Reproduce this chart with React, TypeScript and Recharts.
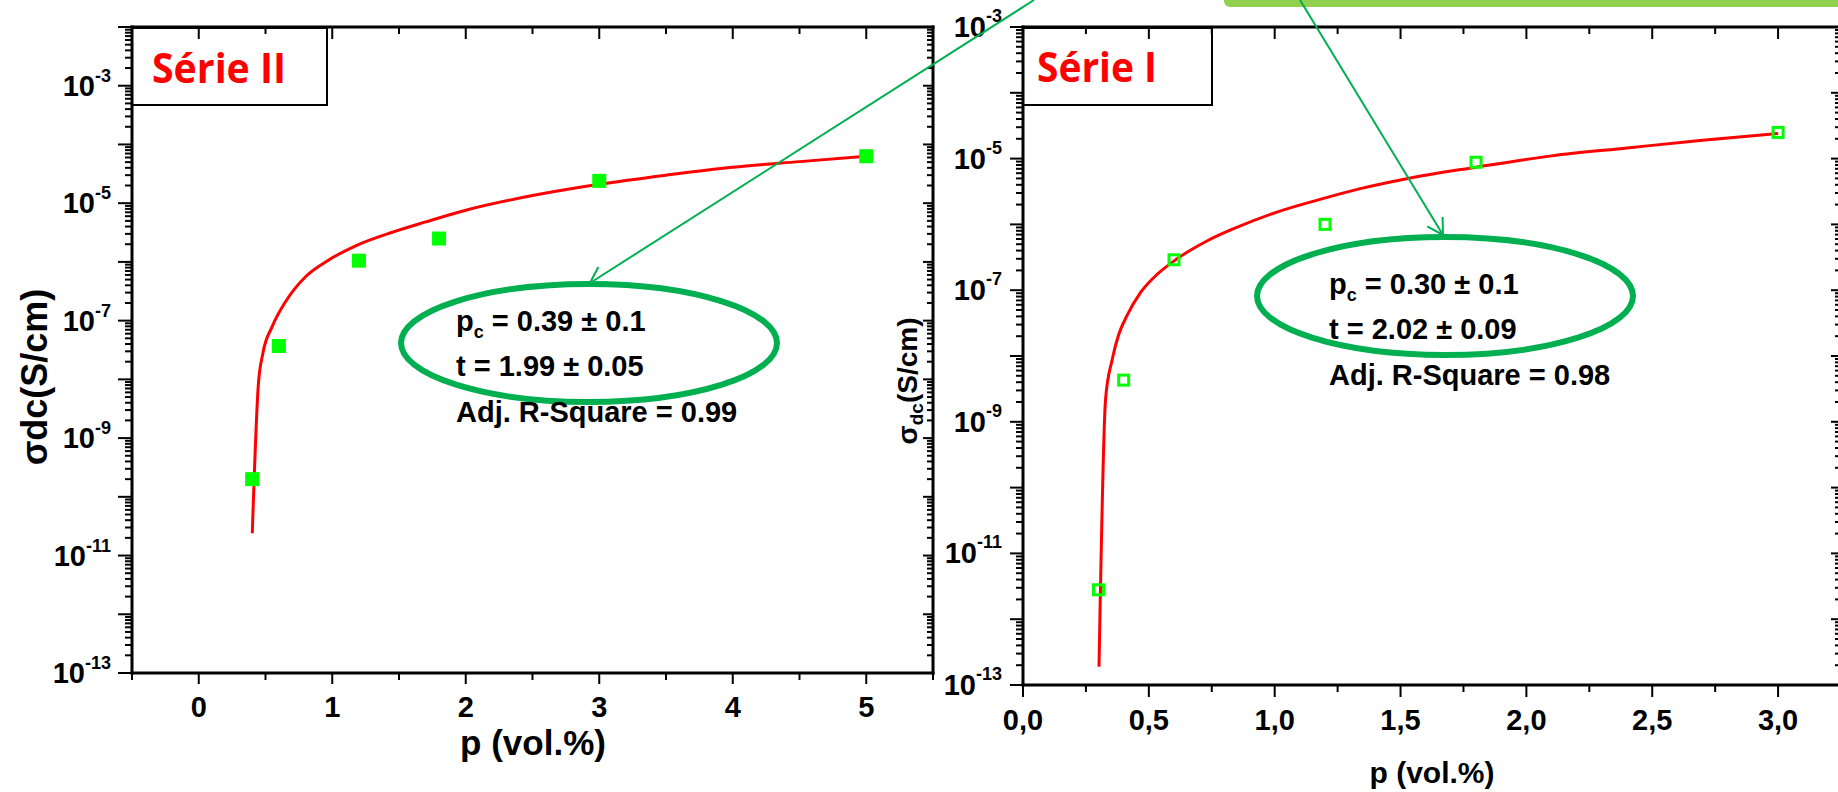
import React from 'react';
import { ComposedChart, Line, Scatter, XAxis, YAxis } from 'recharts';

const FONT = '"Liberation Sans", Arial, Helvetica, sans-serif';
const MARK_GREEN = '#00ff00';
const FIT_RED = '#ff0000';
const NOTE_GREEN = '#00b050';

// Série II (left panel) - measured points and fitted curve
const serie2Points = [
  { x: 0.4, y: 2.0e-10 },
  { x: 0.6, y: 3.7e-8 },
  { x: 1.2, y: 1.05e-6 },
  { x: 1.8, y: 2.5e-6 },
  { x: 3.0, y: 2.4e-5 },
  { x: 5.0, y: 6.3e-5 },
];
const serie2Fit = [
  { x: 0.401, y: 2.4e-11 },
  { x: 0.446, y: 7.9e-9 },
  { x: 0.48, y: 2.75e-8 },
  { x: 0.55, y: 7.9e-8 },
  { x: 0.65, y: 2.1e-7 },
  { x: 0.8, y: 5.6e-7 },
  { x: 0.95, y: 1.0e-6 },
  { x: 1.18, y: 1.9e-6 },
  { x: 1.45, y: 3.2e-6 },
  { x: 1.7, y: 4.8e-6 },
  { x: 2.0, y: 7.6e-6 },
  { x: 2.5, y: 1.35e-5 },
  { x: 3.0, y: 2.1e-5 },
  { x: 3.5, y: 3.0e-5 },
  { x: 4.0, y: 4.1e-5 },
  { x: 4.5, y: 5.1e-5 },
  { x: 5.0, y: 6.3e-5 },
];

// Série I (right panel)
const serie1Points = [
  { x: 0.3, y: 2.8e-12 },
  { x: 0.4, y: 4.3e-9 },
  { x: 0.6, y: 2.9e-7 },
  { x: 1.2, y: 1.0e-6 },
  { x: 1.8, y: 8.8e-6 },
  { x: 3.0, y: 2.5e-5 },
];
const serie1Fit = [
  { x: 0.302, y: 1.9e-13 },
  { x: 0.328, y: 2.2e-9 },
  { x: 0.354, y: 8.7e-9 },
  { x: 0.38, y: 2.1e-8 },
  { x: 0.413, y: 4.1e-8 },
  { x: 0.466, y: 9.1e-8 },
  { x: 0.519, y: 1.55e-7 },
  { x: 0.612, y: 3.0e-7 },
  { x: 0.731, y: 5.6e-7 },
  { x: 0.837, y: 8.6e-7 },
  { x: 1.0, y: 1.5e-6 },
  { x: 1.18, y: 2.4e-6 },
  { x: 1.34, y: 3.5e-6 },
  { x: 1.53, y: 5.0e-6 },
  { x: 1.8, y: 7.4e-6 },
  { x: 2.1, y: 1.1e-5 },
  { x: 2.4, y: 1.45e-5 },
  { x: 2.7, y: 1.9e-5 },
  { x: 3.0, y: 2.4e-5 },
];

// axis ticks
const leftXMajor = [0, 1, 2, 3, 4, 5];
const leftXMinor = [-0.5, 0.5, 1.5, 2.5, 3.5, 4.5, 5.5];
const rightXMajor = [0, 0.5, 1, 1.5, 2, 2.5, 3];
const rightXMinor = [0.25, 0.75, 1.25, 1.75, 2.25, 2.75, 3.25];
const leftDecades = [-13, -12, -11, -10, -9, -8, -7, -6, -5, -4, -3, -2];
const rightDecades = [-13, -12, -11, -10, -9, -8, -7, -6, -5, -4, -3];
const labelledExps = [-13, -11, -9, -7, -5, -3];

// decade ticks plus the 2..9 minor ticks inside each decade
function logTicks(decades: number[]) {
  const out: number[] = [];
  decades.forEach((e, i) => {
    out.push(Number(`1e${e}`));
    if (i < decades.length - 1) {
      for (let m = 2; m <= 9; m++) out.push(Number(`${m}e${e}`));
    }
  });
  return out;
}
const leftYTicks = logTicks(leftDecades);
const rightYTicks = logTicks(rightDecades);
const leftXTicks = [...leftXMinor, ...leftXMajor].sort((a, b) => a - b);
const rightXTicks = [...rightXMinor, ...rightXMajor].sort((a, b) => a - b);

function LogTick(props: any) {
  const { x, y, payload, tickLen, minorLen, labels, gap, mainDy, supDy, fontSize, supSize } = props;
  const lg = Math.log10(payload.value);
  const exp = Math.round(lg);
  const decade = Math.abs(lg - exp) < 1e-6;
  const len = decade ? tickLen : minorLen;
  return (
    <g>
      <line x1={x} y1={y} x2={x - len} y2={y} stroke="#000" strokeWidth={2} />
      {labels && decade && labelledExps.includes(exp) && (
        <text x={x - tickLen - gap} y={y + mainDy} textAnchor="end" fontFamily={FONT} fontWeight="bold" fontSize={fontSize} fill="#000">
          10<tspan dy={supDy} fontSize={supSize}>{String(exp)}</tspan>
        </text>
      )}
    </g>
  );
}

function LinTick(props: any) {
  const { x, y, payload, majors, tickLen, minorLen, labels, labelDy, fontSize, format } = props;
  const major = majors.includes(payload.value);
  return (
    <g>
      <line x1={x} y1={y} x2={x} y2={y + (major ? tickLen : minorLen)} stroke="#000" strokeWidth={2} />
      {labels && major && (
        <text x={x} y={y + labelDy} textAnchor="middle" fontFamily={FONT} fontWeight="bold" fontSize={fontSize} fill="#000">
          {format(payload.value)}
        </text>
      )}
    </g>
  );
}

const axisLine = { stroke: '#000', strokeWidth: 3, strokeLinecap: 'square' as const };

const filledSquare = (p: any) => <rect x={p.cx - 7} y={p.cy - 7} width={14} height={14} fill={MARK_GREEN} />;
const openSquare = (p: any) => (
  <rect x={p.cx - 5} y={p.cy - 5} width={10} height={10} fill="none" stroke={MARK_GREEN} strokeWidth={3} />
);

function Arrow({ from, to }: { from: [number, number]; to: [number, number] }) {
  const ang = Math.atan2(from[1] - to[1], from[0] - to[0]);
  const len = 18;
  const spread = Math.PI / 6;
  const b1 = [to[0] + len * Math.cos(ang + spread), to[1] + len * Math.sin(ang + spread)];
  const b2 = [to[0] + len * Math.cos(ang - spread), to[1] + len * Math.sin(ang - spread)];
  return (
    <g stroke={NOTE_GREEN} strokeWidth={2} fill="none">
      <line x1={from[0]} y1={from[1]} x2={to[0]} y2={to[1]} />
      <polyline points={`${b1[0]},${b1[1]} ${to[0]},${to[1]} ${b2[0]},${b2[1]}`} />
    </g>
  );
}

function FitNote({ x, y0, step, pc, t, r2 }: any) {
  const common = { fontFamily: FONT, fontWeight: 'bold' as const, fontSize: 29, fill: '#000' };
  return (
    <g>
      <text x={x} y={y0} {...common}>
        p<tspan fontSize={18} dy={7}>c</tspan>
        <tspan dy={-7}>{` = ${pc}`}</tspan>
      </text>
      <text x={x} y={y0 + step} {...common}>{`t = ${t}`}</text>
      <text x={x} y={y0 + 2 * step + 1} {...common}>{`Adj. R-Square = ${r2}`}</text>
    </g>
  );
}

export default function App() {
  return (
    <div style={{ position: 'absolute', left: 0, top: 0, width: 1838, height: 792, overflow: 'hidden', background: '#fff', fontFamily: FONT }}>
      {/* Série II */}
      <div style={{ position: 'absolute', left: 0, top: 0 }}>
        <ComposedChart width={940} height={792} margin={{ top: 26, right: 6, bottom: 0, left: 0 }}>
          <XAxis
            xAxisId="b" dataKey="x" type="number" domain={[-0.5, 5.5]} allowDataOverflow
            ticks={leftXTicks} interval={0}
            height={119} tickLine={false} tickSize={0} tickMargin={0} axisLine={axisLine}
            tick={(p: any) => (
              <LinTick {...p} majors={leftXMajor} tickLen={11} minorLen={7} labels labelDy={44} fontSize={29} format={(v: number) => String(v)} />
            )}
          />
          <XAxis
            xAxisId="t" orientation="top" dataKey="x" type="number" domain={[-0.5, 5.5]} allowDataOverflow
            ticks={leftXTicks} interval={0}
            height={1} tickLine={false} tickSize={0} tickMargin={0} axisLine={axisLine}
            tick={(p: any) => <LinTick {...p} majors={leftXMajor} tickLen={12} minorLen={7} />}
          />
          <YAxis
            yAxisId="l" dataKey="y" type="number" scale="log" domain={[1e-13, 1e-2]} allowDataOverflow
            ticks={leftYTicks} interval={0} width={132} tickLine={false} tickSize={0} tickMargin={0} axisLine={axisLine}
            tick={(p: any) => (
              <LogTick {...p} tickLen={14} minorLen={7} labels gap={7} mainDy={10} supDy={-14} fontSize={29} supSize={18} />
            )}
          />
          <YAxis
            yAxisId="r" orientation="right" dataKey="y" type="number" scale="log" domain={[1e-13, 1e-2]} allowDataOverflow
            ticks={leftYTicks} interval={0} width={1} tickLine={false} tickSize={0} tickMargin={0} axisLine={axisLine}
            tick={(p: any) => <LogTick {...p} tickLen={10} minorLen={6} />}
          />
          <Scatter xAxisId="b" yAxisId="l" data={serie2Points} fill={MARK_GREEN} shape={filledSquare} isAnimationActive={false} />
          <Line
            xAxisId="b" yAxisId="l" data={serie2Fit} dataKey="y" type="monotone" stroke={FIT_RED} strokeWidth={3}
            dot={false} activeDot={false} isAnimationActive={false}
          />
        </ComposedChart>
      </div>

      {/* Série I */}
      <div style={{ position: 'absolute', left: 880, top: 0 }}>
        <ComposedChart width={962} height={792} margin={{ top: 26, right: 0, bottom: 0, left: 0 }}>
          <XAxis
            xAxisId="b" dataKey="x" type="number" domain={[0, 3.25]} allowDataOverflow
            ticks={rightXTicks} interval={0}
            height={107} tickLine={false} tickSize={0} tickMargin={0} axisLine={axisLine}
            tick={(p: any) => (
              <LinTick {...p} majors={rightXMajor} tickLen={12} minorLen={7} labels labelDy={45} fontSize={29}
                format={(v: number) => v.toFixed(1).replace('.', ',')} />
            )}
          />
          <XAxis
            xAxisId="t" orientation="top" dataKey="x" type="number" domain={[0, 3.25]} allowDataOverflow
            ticks={rightXTicks} interval={0}
            height={1} tickLine={false} tickSize={0} tickMargin={0} axisLine={axisLine}
            tick={(p: any) => <LinTick {...p} majors={rightXMajor} tickLen={12} minorLen={7} />}
          />
          <YAxis
            yAxisId="l" dataKey="y" type="number" scale="log" domain={[1e-13, 1e-3]} allowDataOverflow
            ticks={rightYTicks} interval={0} width={143} tickLine={false} tickSize={0} tickMargin={0} axisLine={axisLine}
            tick={(p: any) => (
              <LogTick {...p} tickLen={13} minorLen={7} labels gap={8} mainDy={10} supDy={-15} fontSize={29} supSize={18} />
            )}
          />
          <YAxis
            yAxisId="r" orientation="right" dataKey="y" type="number" scale="log" domain={[1e-13, 1e-3]} allowDataOverflow
            ticks={rightYTicks} interval={0} width={1} tickLine={false} tickSize={0} tickMargin={0} axisLine={axisLine}
            tick={(p: any) => <LogTick {...p} tickLen={10} minorLen={6} />}
          />
          <Scatter xAxisId="b" yAxisId="l" data={serie1Points} fill={MARK_GREEN} shape={openSquare} isAnimationActive={false} />
          <Line
            xAxisId="b" yAxisId="l" data={serie1Fit} dataKey="y" type="monotone" stroke={FIT_RED} strokeWidth={3}
            dot={false} activeDot={false} isAnimationActive={false}
          />
        </ComposedChart>
      </div>

      {/* titles, labels and annotations */}
      <svg width={1838} height={792} style={{ position: 'absolute', left: 0, top: 0, pointerEvents: 'none' }}>
        <rect x={1224} y={-12} width={660} height={19} rx={6} fill="#92d050" />

        <text transform="translate(47,377) rotate(-90)" textAnchor="middle" fontFamily={FONT} fontWeight="bold" fontSize={36}>
          σdc(S/cm)
        </text>
        <text transform="translate(917,381) rotate(-90)" textAnchor="middle" fontFamily={FONT} fontWeight="bold" fontSize={28}>
          σ<tspan fontSize={19} dy={6}>dc</tspan>
          <tspan dy={-6}>(S/cm)</tspan>
        </text>
        <text x={533} y={755} textAnchor="middle" fontFamily={FONT} fontWeight="bold" fontSize={35}>p (vol.%)</text>
        <text x={1432} y={783} textAnchor="middle" fontFamily={FONT} fontWeight="bold" fontSize={30}>p (vol.%)</text>

        <rect x={132} y={28} width={195} height={77} fill="none" stroke="#000" strokeWidth={2} />
        <text x={152} y={83} fontFamily='"Open Sans", sans-serif' fontWeight="bold" fontSize={42} fill={FIT_RED}
          textLength={134} lengthAdjust="spacingAndGlyphs">Série II</text>
        <rect x={1023} y={28} width={189} height={77} fill="none" stroke="#000" strokeWidth={2} />
        <text x={1037} y={82} fontFamily='"Open Sans", sans-serif' fontWeight="bold" fontSize={42} fill={FIT_RED}
          textLength={120} lengthAdjust="spacingAndGlyphs">Série I</text>

        <ellipse cx={589} cy={343} rx={188} ry={59} fill="none" stroke={NOTE_GREEN} strokeWidth={6} />
        <ellipse cx={1445} cy={296} rx={188} ry={59} fill="none" stroke={NOTE_GREEN} strokeWidth={6} />
        <Arrow from={[1034, 0]} to={[590, 283]} />
        <Arrow from={[1300, 0]} to={[1443, 235]} />

        <FitNote x={456} y0={331} step={45} pc="0.39 ± 0.1" t="1.99 ± 0.05" r2="0.99" />
        <FitNote x={1329} y0={294} step={45} pc="0.30 ± 0.1" t="2.02 ± 0.09" r2="0.98" />
      </svg>
    </div>
  );
}
